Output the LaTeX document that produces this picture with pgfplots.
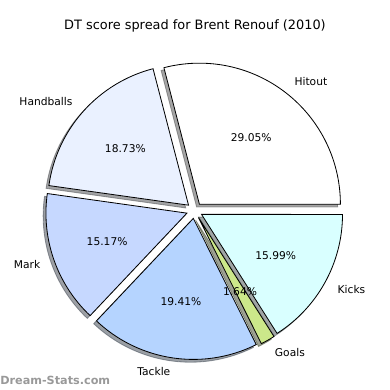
\documentclass[border=0pt]{standalone}
\usepackage{pgfplots}
\pgfplotsset{compat=1.18}
\usepackage{fontspec}
\setmainfont{DejaVu Sans}

% geometry in pixel units (y upwards)
\def\cx{194.5}\def\cy{179.5}\def\R{141}\def\ex{8}
\def\cum{0}
\newcommand\defslice[2]{%
  \pgfmathsetmacro\tmpS{\cum}%
  \pgfmathsetmacro\tmpE{\cum+3.6*#2}%
  \pgfmathsetmacro\tmpM{(\tmpS+\tmpE)/2}%
  \pgfmathsetmacro\tmpX{\cx+\ex*cos(\tmpM)}%
  \pgfmathsetmacro\tmpY{\cy+\ex*sin(\tmpM)}%
  \pgfmathsetmacro\tmpLX{\tmpX+1.1*\R*cos(\tmpM)}%
  \pgfmathsetmacro\tmpLY{\tmpY+1.1*\R*sin(\tmpM)}%
  \pgfmathsetmacro\tmpPX{\tmpX+0.6*\R*cos(\tmpM)}%
  \pgfmathsetmacro\tmpPY{\tmpY+0.6*\R*sin(\tmpM)}%
  \expandafter\xdef\csname pieS#1\endcsname{\tmpS}%
  \expandafter\xdef\csname pieE#1\endcsname{\tmpE}%
  \expandafter\xdef\csname pieX#1\endcsname{\tmpX}%
  \expandafter\xdef\csname pieY#1\endcsname{\tmpY}%
  \expandafter\xdef\csname pieLX#1\endcsname{\tmpLX}%
  \expandafter\xdef\csname pieLY#1\endcsname{\tmpLY}%
  \expandafter\xdef\csname piePX#1\endcsname{\tmpPX}%
  \expandafter\xdef\csname piePY#1\endcsname{\tmpPY}%
  \xdef\cum{\tmpE}%
}
% data: percentages
\defslice{A}{29.05}% Hitout
\defslice{B}{18.73}% Handballs
\defslice{C}{15.17}% Mark
\defslice{D}{19.41}% Tackle
\defslice{E}{1.64}%  Goals
\defslice{F}{15.99}% Kicks

\definecolor{cA}{RGB}{255,255,255}
\definecolor{cB}{RGB}{234,241,255}
\definecolor{cC}{RGB}{198,216,255}
\definecolor{cD}{RGB}{181,212,255}
\definecolor{cE}{RGB}{204,232,138}
\definecolor{cF}{RGB}{217,255,255}

\newcommand\pieWedge[5]{%
  \addplot[draw=black, line width=0.6pt, fill=#5, domain=#1:#2, samples=90, variable=\t, line join=miter]
    ({#3+\R*cos(\t)}, {#4+\R*sin(\t)}) -- (axis cs:#3,#4) -- cycle;
}
\newcommand\pieShadow[5]{%
  \addplot[draw=#5!30!black, fill=#5!30!black, line width=0.6pt, opacity=0.5, domain=#1:#2, samples=90, variable=\t, line join=miter]
    ({#3-2.8+\R*cos(\t)}, {#4-2.8+\R*sin(\t)}) -- (axis cs:#3-2.8,#4-2.8) -- cycle;
}

\begin{document}
\begin{tikzpicture}
\begin{axis}[width=10cm, height=10cm, scale only axis,
  xmin=0, xmax=390, ymin=0, ymax=390, hide axis, clip=false]
\addplot[draw=none] coordinates {(0,0) (390,390)};
% shadows
\pieShadow{\pieSA}{\pieEA}{\pieXA}{\pieYA}{cA}
\pieShadow{\pieSB}{\pieEB}{\pieXB}{\pieYB}{cB}
\pieShadow{\pieSC}{\pieEC}{\pieXC}{\pieYC}{cC}
\pieShadow{\pieSD}{\pieED}{\pieXD}{\pieYD}{cD}
\pieShadow{\pieSE}{\pieEE}{\pieXE}{\pieYE}{cE}
\pieShadow{\pieSF}{\pieEF}{\pieXF}{\pieYF}{cF}
% wedges
\pieWedge{\pieSA}{\pieEA}{\pieXA}{\pieYA}{cA}
\pieWedge{\pieSB}{\pieEB}{\pieXB}{\pieYB}{cB}
\pieWedge{\pieSC}{\pieEC}{\pieXC}{\pieYC}{cC}
\pieWedge{\pieSD}{\pieED}{\pieXD}{\pieYD}{cD}
\pieWedge{\pieSE}{\pieEE}{\pieXE}{\pieYE}{cE}
\pieWedge{\pieSF}{\pieEF}{\pieXF}{\pieYF}{cF}
% labels
\begin{scope}[every node/.style={inner sep=0pt, font=\fontsize{7.8}{9}\selectfont}]
\node[anchor=west] at (axis cs:\pieLXA,\pieLYA) {Hitout};
\node[anchor=east] at (axis cs:\pieLXB,\pieLYB) {Handballs};
\node[anchor=east] at (axis cs:\pieLXC,\pieLYC) {Mark};
\node[anchor=east] at (axis cs:\pieLXD,\pieLYD) {Tackle};
\node[anchor=west] at (axis cs:\pieLXE,\pieLYE) {Goals};
\node[anchor=west] at (axis cs:\pieLXF,\pieLYF) {Kicks};
\node at (axis cs:\piePXA,\piePYA) {29.05\%};
\node at (axis cs:\piePXB,\piePYB) {18.73\%};
\node at (axis cs:\piePXC,\piePYC) {15.17\%};
\node at (axis cs:\piePXD,\piePYD) {19.41\%};
\node at (axis cs:\piePXE,\piePYE) {1.64\%};
\node at (axis cs:\piePXF,\piePYF) {15.99\%};
\end{scope}
\node[anchor=base, inner sep=0pt, font=\fontsize{9.4}{11}\selectfont] at (axis cs:195,360) {DT score spread for Brent Renouf (2010)};
\node[anchor=west, inner sep=0pt, text=black!40, font=\bfseries\fontsize{8.2}{10}\selectfont] at (axis cs:0,10) {Dream-Stats.com};
\end{axis}
\end{tikzpicture}
\end{document}
